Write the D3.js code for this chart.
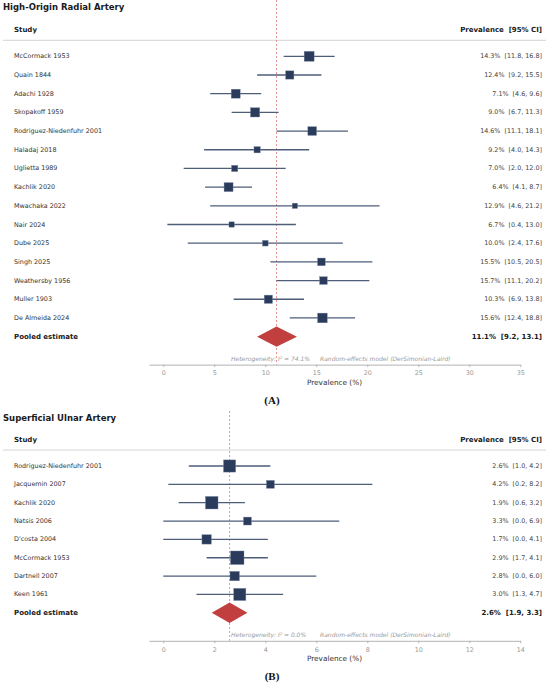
<!DOCTYPE html>
<html>
<head>
<meta charset="utf-8">
<script src="https://cdn.jsdelivr.net/npm/d3@7"></script>
<style>
  body { margin: 0; background: #fff; }
  text { font-family: "DejaVu Sans", sans-serif; white-space: pre; }
</style>
</head>
<body>
<script>
// ---- panel A : high-origin radial artery ----
var radialStudies = ["McCormack 1953", "Quain 1844", "Adachi 1928", "Skopakoff 1959",
  "Rodriguez-Niedenfuhr 2001", "Haladaj 2018", "Uglietta 1989", "Kachlik 2020",
  "Mwachaka 2022", "Nair 2024", "Dube 2025", "Singh 2025", "Weathersby 1956",
  "Muller 1903", "De Almeida 2024"];
var radialEst = [14.3, 12.4, 7.1, 9.0, 14.6, 9.2, 7.0, 6.4, 12.9, 6.7, 10.0, 15.5, 15.7, 10.3, 15.6];
var radialLo  = [11.8, 9.2, 4.6, 6.7, 11.1, 4.0, 2.0, 4.1, 4.6, 0.4, 2.4, 10.5, 11.1, 6.9, 12.4];
var radialHi  = [16.8, 15.5, 9.6, 11.3, 18.1, 14.3, 12.0, 8.7, 21.2, 13.0, 17.6, 20.5, 20.2, 13.8, 18.8];
var radialWeight = [10.6, 7.3, 8.6, 9.1, 8.1, 4.2, 4.2, 8.6, 3.0, 3.0, 3.4, 6.3, 6.3, 7.3, 10.0];
var radialPooled = [11.1, 9.2, 13.1];
var radialI2 = 74.1;
var radialTicks = [0, 5, 10, 15, 20, 25, 30, 35];

// ---- panel B : superficial ulnar artery ----
var ulnarStudies = ["Rodriguez-Niedenfuhr 2001", "Jacquemin 2007", "Kachlik 2020", "Natsis 2006",
  "D'costa 2004", "McCormack 1953", "Dartnell 2007", "Keen 1961"];
var ulnarEst = [2.6, 4.2, 1.9, 3.3, 1.7, 2.9, 2.8, 3.0];
var ulnarLo  = [1.0, 0.2, 0.6, 0.0, 0.0, 1.7, 0.0, 1.3];
var ulnarHi  = [4.2, 8.2, 3.2, 6.9, 4.1, 4.1, 6.0, 4.7];
var ulnarWeight = [15.8, 6.7, 16.8, 6.7, 9.4, 19.5, 9.4, 15.8];
var ulnarPooled = [2.6, 1.9, 3.3];
var ulnarI2 = 0.0;
var ulnarTicks = [0, 2, 4, 6, 8, 10, 12, 14];

var W = 550, H = 686;
var svg = d3.select("body").append("svg").attr("width", W).attr("height", H);

var fmt = d3.format(".1f");

function forest(top, title, tag, names, est, lo, hi, wt, pooled, i2, ticks, firstRow, step) {
  var g = svg.append("g").attr("transform", "translate(0," + top + ")");
  var xmax = d3.max(ticks);
  var x = d3.scaleLinear().domain([-0.04 * xmax, xmax]).range([149, 520.3]);
  var y = function(i) { return firstRow + i * step; };
  var sz = d3.scaleSqrt().domain([0, 20]).range([0, 13.7]);
  var rows = d3.range(names.length);
  var py = y(names.length);
  var axisY = py + 28;

  g.append("text").attr("x", 3).attr("y", 7.3).attr("dominant-baseline", "central")
    .style("font-size", "8.5px").style("font-weight", "bold").style("fill", "#1a1a1a").text(title);

  g.append("text").attr("x", 14).attr("y", firstRow - 26).attr("dominant-baseline", "central")
    .style("font-size", "7px").style("font-weight", "bold").style("fill", "#1a1a1a").text("Study");
  g.append("text").attr("x", 542).attr("y", firstRow - 26).attr("dominant-baseline", "central")
    .attr("text-anchor", "end")
    .style("font-size", "7px").style("font-weight", "bold").style("fill", "#1a1a1a").text("Prevalence  [95% CI]");

  g.append("line").attr("x1", 3).attr("x2", 546).attr("y1", firstRow - 16).attr("y2", firstRow - 16)
    .style("stroke", "#cfcfcf").style("stroke-width", 0.9);

  // pooled reference line
  g.append("line").attr("x1", x(pooled[0])).attr("x2", x(pooled[0]))
    .attr("y1", 0).attr("y2", axisY)
    .style("stroke", "#e57a7a").style("stroke-width", 0.8).style("stroke-dasharray", "2,2");

  // study labels + CI text
  g.selectAll(".lab").data(rows).join("text").attr("class", "lab")
    .attr("x", 14).attr("y", y).attr("dominant-baseline", "central")
    .style("font-size", "6.4px").style("fill", "#333").text(function(i) { return names[i]; });
  g.selectAll(".ci").data(rows).join("text").attr("class", "ci")
    .attr("x", 542).attr("y", y).attr("dominant-baseline", "central").attr("text-anchor", "end")
    .style("font-size", "6.4px").style("fill", "#444")
    .text(function(i) { return fmt(est[i]) + "%  [" + fmt(lo[i]) + ", " + fmt(hi[i]) + "]"; });

  // whiskers and squares
  g.selectAll(".whisk").data(rows).join("line").attr("class", "whisk")
    .attr("x1", function(i) { return x(lo[i]); }).attr("x2", function(i) { return x(hi[i]); })
    .attr("y1", y).attr("y2", y)
    .style("stroke", "#4d5d7a").style("stroke-width", 1.3);
  g.selectAll(".sq").data(rows).join("rect").attr("class", "sq")
    .attr("x", function(i) { return x(est[i]) - sz(wt[i]) / 2; })
    .attr("y", function(i) { return y(i) - sz(wt[i]) / 2; })
    .attr("width", function(i) { return sz(wt[i]); })
    .attr("height", function(i) { return sz(wt[i]); })
    .style("fill", "#2a3b5c").style("stroke", "#7d8aa3").style("stroke-width", 0.4);

  // pooled row
  g.append("text").attr("x", 14).attr("y", py).attr("dominant-baseline", "central")
    .style("font-size", "7px").style("font-weight", "bold").style("fill", "#1a1a1a").text("Pooled estimate");
  g.append("text").attr("x", 542).attr("y", py).attr("dominant-baseline", "central").attr("text-anchor", "end")
    .style("font-size", "7px").style("font-weight", "bold").style("fill", "#1a1a1a")
    .text(fmt(pooled[0]) + "%  [" + fmt(pooled[1]) + ", " + fmt(pooled[2]) + "]");
  var dh = 10.2;
  g.append("path")
    .attr("d", "M" + x(pooled[1]) + "," + py + "L" + x(pooled[0]) + "," + (py - dh) +
      "L" + x(pooled[2]) + "," + py + "L" + x(pooled[0]) + "," + (py + dh) + "Z")
    .style("fill", "#c23f3f");

  // heterogeneity notes
  g.append("text").attr("x", 231).attr("y", py + 21.7).attr("dominant-baseline", "central")
    .style("font-size", "6px").style("font-style", "italic").style("fill", "#999")
    .text("Heterogeneity: I\u00b2 = " + fmt(i2) + "%");
  g.append("text").attr("x", 320).attr("y", py + 21.7).attr("dominant-baseline", "central")
    .style("font-size", "6px").style("font-style", "italic").style("fill", "#999")
    .text("Random-effects model (DerSimonian-Laird)");

  // x axis
  var ax = g.append("g").attr("transform", "translate(0," + axisY + ")")
    .call(d3.axisBottom(x).tickValues(ticks).tickSize(2.5).tickPadding(3.8).tickSizeOuter(0));
  ax.select(".domain").style("stroke", "#aaa").style("stroke-width", 0.9);
  ax.selectAll(".tick line").style("stroke", "#aaa").style("stroke-width", 0.8);
  ax.selectAll(".tick text").style("font-size", "6.4px").style("fill", "#999")
    .style("font-family", "DejaVu Sans, sans-serif");

  g.append("text").attr("x", 334.5).attr("y", py + 45.7).attr("dominant-baseline", "central")
    .attr("text-anchor", "middle").style("font-size", "7.3px").style("fill", "#333").text("Prevalence (%)");

  g.append("text").attr("x", 272).attr("y", py + 63.2).attr("dominant-baseline", "central")
    .attr("text-anchor", "middle").style("font-family", "Liberation Serif, serif")
    .style("font-size", "11px").style("font-weight", "bold").style("fill", "#111").text(tag);
}

forest(0, "High-Origin Radial Artery", "(A)", radialStudies, radialEst, radialLo, radialHi,
  radialWeight, radialPooled, radialI2, radialTicks, 56.3, 18.69);
forest(411, "Superficial Ulnar Artery", "(B)", ulnarStudies, ulnarEst, ulnarLo, ulnarHi,
  ulnarWeight, ulnarPooled, ulnarI2, ulnarTicks, 55, 18.35);
</script>
</body>
</html>
